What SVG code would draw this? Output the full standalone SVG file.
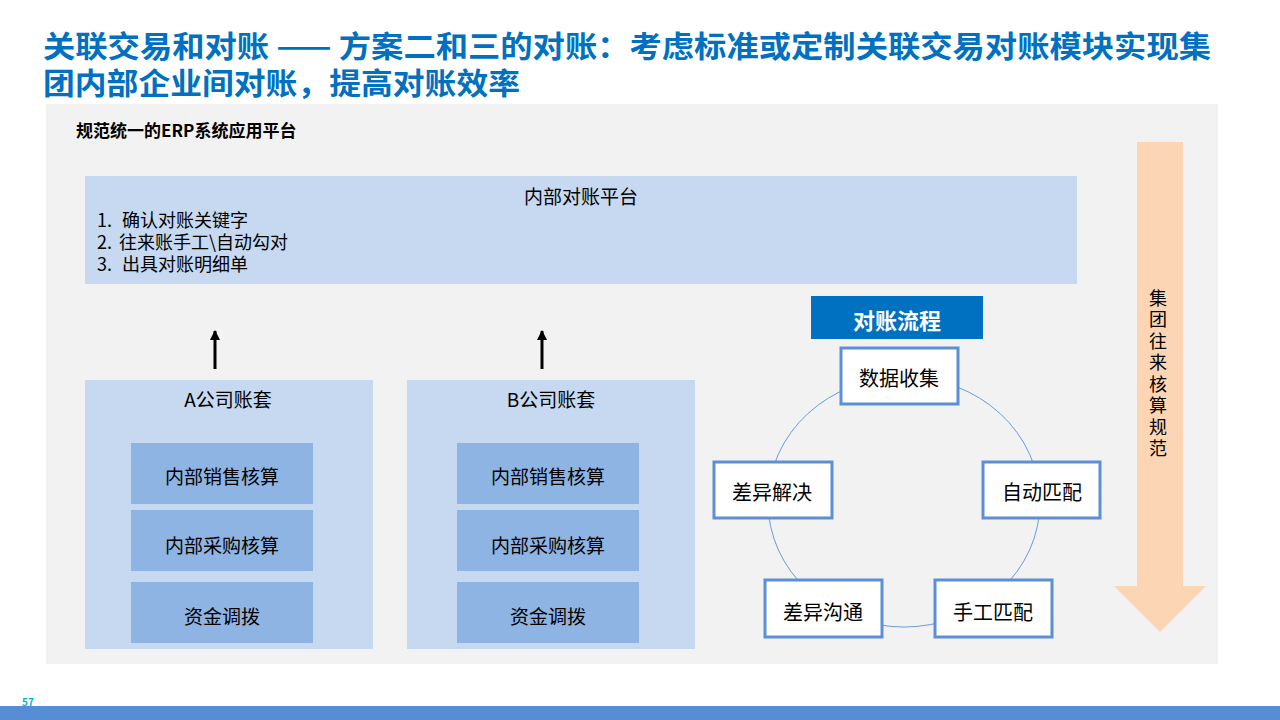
<svg xmlns="http://www.w3.org/2000/svg" width="1280" height="720" viewBox="0 0 1280 720">
<defs>
<style>
text{font-family:"Microsoft YaHei","Noto Sans CJK SC",sans-serif;fill:#000}
.title{font-size:30px;font-weight:bold;fill:#0070C0}
.t18{font-size:19px}
.list{font-size:18px}
.t20{font-size:20px}
.mid{text-anchor:middle}
.outer{fill:#C6D9F1}
.inner{fill:#8EB4E3}
.node{fill:#FFFFFF;stroke:#5B8FD6;stroke-width:3}
</style>
<marker id="ah" viewBox="0 0 10 10" refX="9" refY="5" markerWidth="12" markerHeight="10" markerUnits="userSpaceOnUse" orient="auto">
<path d="M0,0 L10,5 L0,10 Z" fill="#000"/>
</marker>
</defs>
<rect width="1280" height="720" fill="#FFFFFF"/>
<text class="title" x="43" y="57" textLength="1168" lengthAdjust="spacingAndGlyphs">关联交易和对账 —— 方案二和三的对账：考虑标准或定制关联交易对账模块实现集</text>
<text class="title" x="43" y="94" textLength="477" lengthAdjust="spacingAndGlyphs">团内部企业间对账，提高对账效率</text>
<rect x="46" y="104" width="1172" height="560" fill="#F2F2F2"/>
<text x="76" y="137" style="font-size:17px;font-weight:bold">规范统一的ERP系统应用平台</text>

<g id="platform">
<rect class="outer" x="85" y="176" width="992" height="108"/>
<text class="t18 mid" x="581" y="204">内部对账平台</text>
<text class="list" x="97" y="227">1.<tspan x="122">确认对账关键字</tspan></text>
<text class="list" x="97" y="249">2.<tspan x="119">往来账手工\自动勾对</tspan></text>
<text class="list" x="97" y="271">3.<tspan x="122">出具对账明细单</tspan></text>
</g>

<g id="companyA">
<rect class="outer" x="85" y="380" width="288" height="269"/>
<text class="t18 mid" x="228" y="407">A公司账套</text>
<rect class="inner" x="131" y="443" width="182" height="61"/>
<text class="t18 mid" x="222" y="484">内部销售核算</text>
<rect class="inner" x="131" y="510" width="182" height="61"/>
<text class="t18 mid" x="222" y="553">内部采购核算</text>
<rect class="inner" x="131" y="582" width="182" height="61"/>
<text class="t18 mid" x="222" y="624">资金调拨</text>
</g>

<g id="companyB">
<rect class="outer" x="407" y="380" width="288" height="269"/>
<text class="t18 mid" x="551" y="407">B公司账套</text>
<rect class="inner" x="457" y="443" width="182" height="61"/>
<text class="t18 mid" x="548" y="484">内部销售核算</text>
<rect class="inner" x="457" y="510" width="182" height="61"/>
<text class="t18 mid" x="548" y="553">内部采购核算</text>
<rect class="inner" x="457" y="582" width="182" height="61"/>
<text class="t18 mid" x="548" y="624">资金调拨</text>
</g>

<g id="connectors">
<line x1="215" y1="369" x2="215" y2="331" stroke="#000" stroke-width="3" marker-end="url(#ah)"/>
<line x1="542" y1="369" x2="542" y2="331" stroke="#000" stroke-width="3" marker-end="url(#ah)"/>
<ellipse cx="904" cy="502" rx="136" ry="125" fill="none" stroke="#6A9BD8" stroke-width="1"/>
</g>

<g id="flowTitle">
<rect x="811" y="296" width="172" height="43" fill="#0070C0"/>
<text class="mid" x="897" y="329" style="font-size:22px;font-weight:bold;fill:#FFFFFF">对账流程</text>
</g>

<g id="n1">
<rect class="node" x="841" y="348" width="117" height="56"/>
<text class="t20 mid" x="899" y="386">数据收集</text>
</g>
<g id="n2">
<rect class="node" x="983" y="462" width="117" height="56"/>
<text class="t20 mid" x="1042" y="500">自动匹配</text>
</g>
<g id="n3">
<rect class="node" x="935" y="580" width="117" height="57"/>
<text class="t20 mid" x="993" y="620">手工匹配</text>
</g>
<g id="n4">
<rect class="node" x="765" y="580" width="117" height="57"/>
<text class="t20 mid" x="823" y="620">差异沟通</text>
</g>
<g id="n5">
<rect class="node" x="714" y="462" width="118" height="56"/>
<text class="t20 mid" x="772" y="500">差异解决</text>
</g>

<g id="normArrow">
<path d="M1137,142 L1183,142 L1183,586 L1206,586 L1160,632 L1114,586 L1137,586 Z" fill="#FCD5B5"/>
<text x="1158" y="289" style="font-size:18px;writing-mode:vertical-rl;letter-spacing:3.5px">集团往来核算规范</text>
</g>

<rect x="0" y="706" width="1280" height="14" fill="#558ED5"/>
<text x="22" y="706" style="font-size:10px;font-weight:bold;fill:#00B0F0">57</text>
</svg>
